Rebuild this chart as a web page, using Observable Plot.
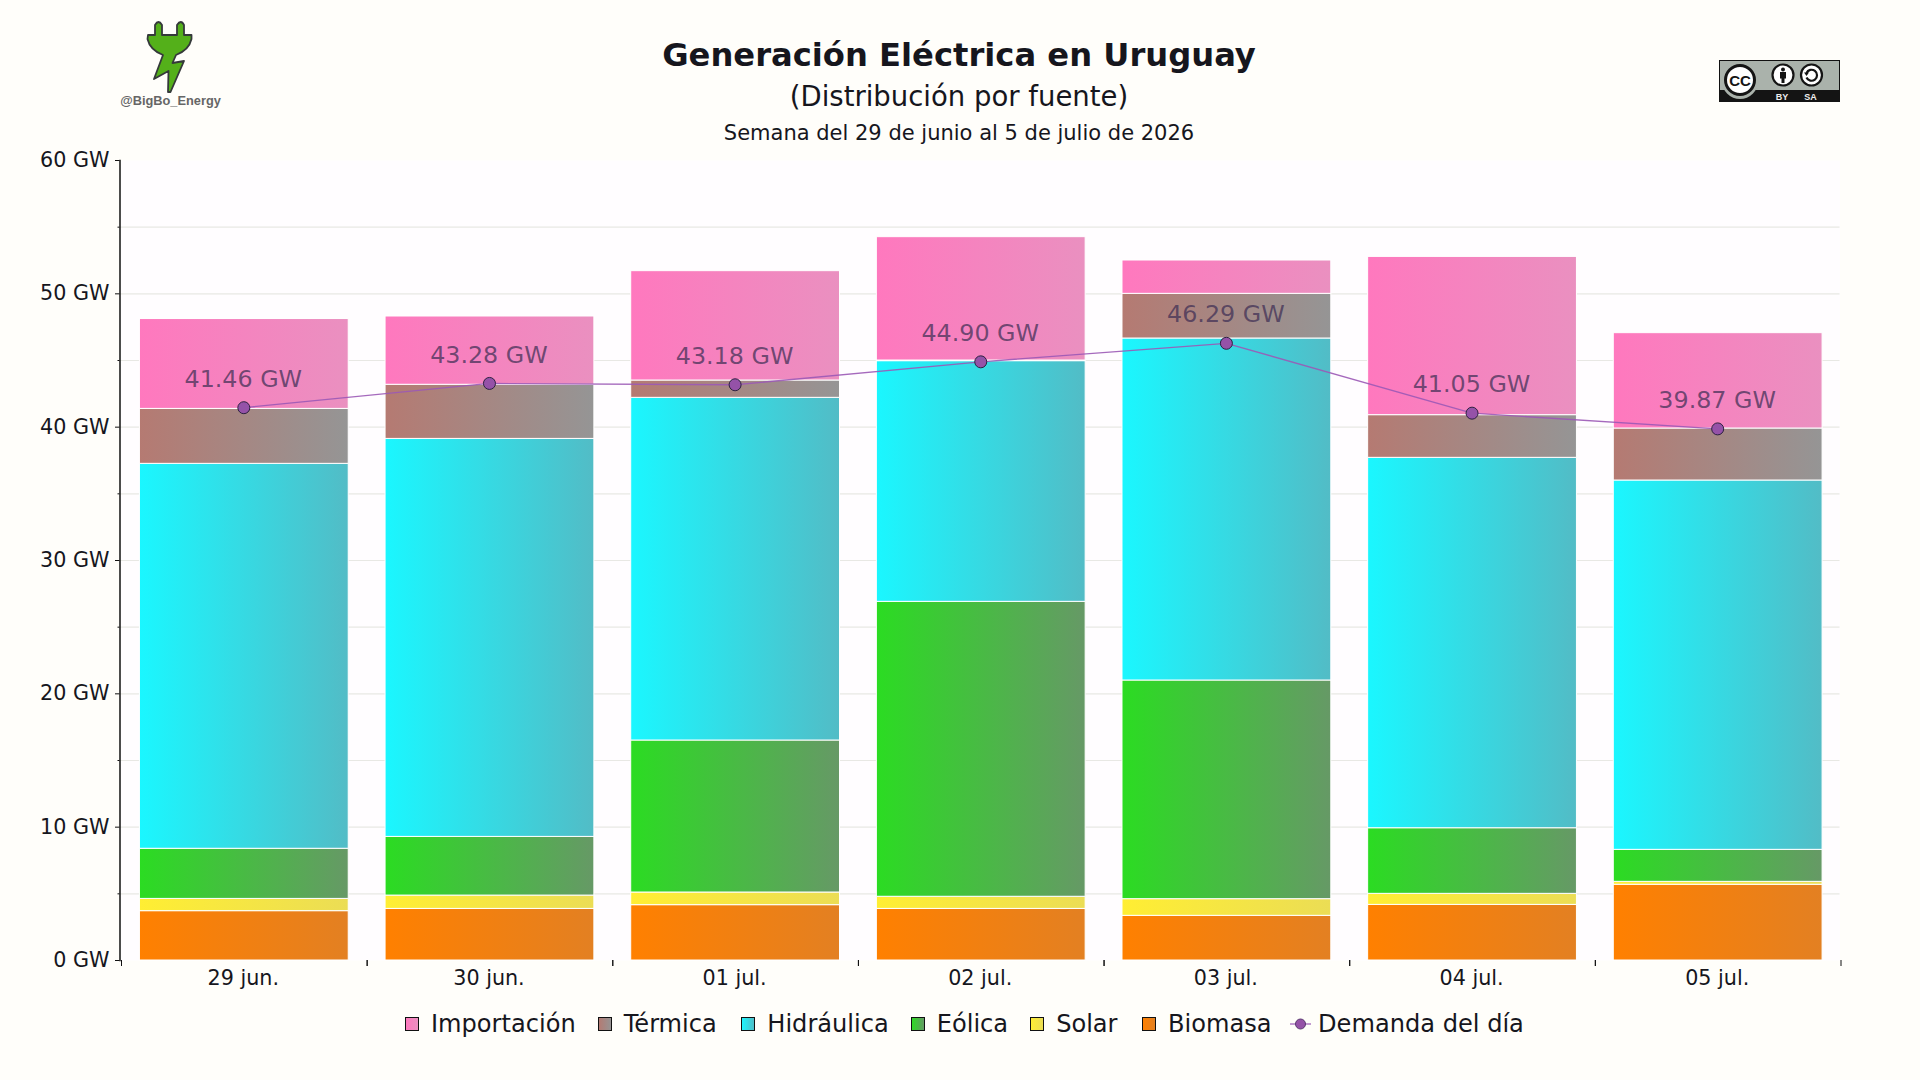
<!DOCTYPE html>
<html lang="es">
<head>
<meta charset="utf-8">
<script src="https://cdn.jsdelivr.net/npm/d3@7"></script>
<script src="https://cdn.jsdelivr.net/npm/@observablehq/plot@0.6"></script>
<style>
  html, body { margin: 0; padding: 0; width: 1920px; height: 1080px; background: #fffefa; overflow: hidden; font-family: "DejaVu Sans", sans-serif; color: #16161d; }
  #page { position: relative; width: 1920px; height: 1080px; }
  .head { position: absolute; left: 0; width: 1918px; text-align: center; white-space: nowrap; }
  #chart { position: absolute; left: 0; top: 130px; }
  #legend { position: absolute; left: 405px; top: 1010px; display: flex; align-items: center; font-size: 24.1px; line-height: 28px; white-space: nowrap; }
  #legend .item { display: flex; align-items: center; }
  #legend svg { margin-right: 12px; display: block; }
  .deco { position: absolute; left: 0; top: 0; }
</style>
</head>
<body>
<div id="page">
  <svg class="deco" width="1920" height="130" viewBox="0 0 1920 130">
    <path d="M148,35 L155,35 L155,25 Q158.500,19 162,25 L162,35 L177,35 L177,25 Q181,19 184,25 L184,35 L191.500,35 L191.500,39 Q189,50 176,55 L172.500,63 L184,61 L170.500,92 L168,92 L168.500,71 L154,79 L163,55 Q150,50 147.500,39 Z" fill="#54b01a" stroke="#35393a" stroke-width="1.800" stroke-linejoin="round"/>
    <text x="170.500" y="105" text-anchor="middle" font-family="Liberation Sans" font-weight="700" font-size="12.800" fill="#666">@BigBo_Energy</text>
    <g>
      <rect x="1719.500" y="60.500" width="120" height="41" fill="#aab2ab" stroke="#111" stroke-width="1"/>
      <rect x="1719" y="90" width="121" height="12" fill="#141414"/>
      <circle cx="1740" cy="81" r="18" fill="#aab2ab"/>
      <circle cx="1740" cy="80" r="14.500" fill="#fff" stroke="#141414" stroke-width="3"/>
      <text x="1740" y="85.500" text-anchor="middle" font-family="Liberation Sans" font-weight="700" font-size="15" fill="#141414">CC</text>
      <circle cx="1783" cy="75" r="10.500" fill="#fff" stroke="#141414" stroke-width="2.200"/>
      <circle cx="1783" cy="69.500" r="2" fill="#141414"/>
      <rect x="1780" y="72" width="6" height="6.500" fill="#141414"/>
      <rect x="1781.500" y="78" width="3" height="5" fill="#141414"/>
      <circle cx="1811.500" cy="75" r="10.500" fill="#fff" stroke="#141414" stroke-width="2.200"/>
      <path d="M1806.500,73 A5.500,5.500 0 1 1 1806.500,77.500" fill="none" stroke="#141414" stroke-width="2.200"/>
      <path d="M1804,72.500 L1809,72.500 L1806.500,76 Z" fill="#141414"/>
      <text x="1782" y="100" text-anchor="middle" font-family="Liberation Sans" font-weight="700" font-size="9" fill="#eee">BY</text>
      <text x="1810.500" y="100" text-anchor="middle" font-family="Liberation Sans" font-weight="700" font-size="9" fill="#eee">SA</text>
    </g>
  </svg>
  <div class="head" style="top:36px;font-size:32.200px;line-height:38px;font-weight:700;">Generación Eléctrica en Uruguay</div>
  <div class="head" style="top:79px;font-size:27.500px;line-height:34px;">(Distribución por fuente)</div>
  <div class="head" style="top:120px;font-size:21px;line-height:26px;">Semana del 29 de junio al 5 de julio de 2026</div>
  <div id="chart"></div>
  <div id="legend"></div>
</div>
<script>
const days = ["29 jun.", "30 jun.", "01 jul.", "02 jul.", "03 jul.", "04 jul.", "05 jul."];
const biomasa    = [3.70, 3.87, 4.15, 3.87, 3.35, 4.17, 5.68];
const solar      = [0.92, 1.00, 0.95, 0.91, 1.25, 0.83, 0.22];
const eolica     = [3.76, 4.40, 11.40, 22.12, 16.40, 4.92, 2.40];
const hidraulica = [28.87, 29.85, 25.70, 18.05, 25.65, 27.78, 27.70];
const termica    = [4.12, 4.06, 1.30, 0.05, 3.35, 3.20, 3.90];
const importacion = [6.74, 5.12, 8.20, 9.25, 2.50, 11.87, 7.15];
const demanda    = [41.46, 43.28, 43.18, 44.90, 46.29, 41.05, 39.87];

const sources = ["Biomasa", "Solar", "Eólica", "Hidráulica", "Térmica", "Importación"];
const sourceValues = [biomasa, solar, eolica, hidraulica, termica, importacion];
const legendOrder = ["Importación", "Térmica", "Hidráulica", "Eólica", "Solar", "Biomasa"];
const legendGaps = [22, 24.5, 22, 22, 24.5, 18.5];
const gradientIds = {"Biomasa": "g-bio", "Solar": "g-sol", "Eólica": "g-eol", "Hidráulica": "g-hid", "Térmica": "g-ter", "Importación": "g-imp"};
const gradientStops = {
  "Biomasa": ["#ff8000", "#e38022"],
  "Solar": ["#ffee33", "#ebdd55"],
  "Eólica": ["#2bdc22", "#669966"],
  "Hidráulica": ["#1af7ff", "#52bcc6"],
  "Térmica": ["#b57a72", "#959595"],
  "Importación": ["#ff78be", "#ea90c0"]
};

const rows = sources.flatMap((s, i) => days.map((d, j) => ({day: d, source: s, value: sourceValues[i][j]})));
const demandRows = days.map((d, j) => ({day: d, value: demanda[j]}));

const W = 1920, mL = 121, mR = 79.5;
const band = (W - mL - mR) / days.length;
const font = '"DejaVu Sans", sans-serif';
const ink = "#16161d";
const noLabel = () => "";

function gradientDefs() {
  const svg = d3.create("svg:g");
  const defs = svg.append("defs");
  for (const s of sources) {
    const g = defs.append("linearGradient").attr("id", gradientIds[s]).attr("x1", 0).attr("x2", 1).attr("y1", 0).attr("y2", 0);
    g.append("stop").attr("offset", "0%").attr("stop-color", gradientStops[s][0]);
    g.append("stop").attr("offset", "100%").attr("stop-color", gradientStops[s][1]);
  }
  return svg.node();
}

const chart = Plot.plot({
  width: W, height: 880,
  marginLeft: mL, marginRight: mR, marginTop: 30, marginBottom: 50,
  style: {background: "transparent", fontFamily: font, overflow: "visible"},
  x: {type: "band", domain: days, paddingInner: 0.15, paddingOuter: 0.075, round: false, label: null},
  y: {domain: [0, 60], label: null},
  color: {domain: sources, range: sources.map(s => `url(#${gradientIds[s]})`)},
  marks: [
    gradientDefs,
    Plot.frame({fill: "#fffdff", stroke: null, dx: -1}),
    Plot.ruleY(d3.range(5, 60, 5), {stroke: "#e8e8e4", strokeWidth: 1.2, dx: -1}),
    Plot.barY(rows, {x: "day", y: "value", z: "source", fill: "source", stroke: "#fff", strokeWidth: 1, order: null}),
    Plot.line(demandRows, {x: "day", y: "value", stroke: "#9b59b6", strokeWidth: 1.3, strokeOpacity: 0.9, dx: -0.5, curve: "linear"}),
    Plot.dot(demandRows, {x: "day", y: "value", r: 6, dx: -0.5, fill: "#9552a8", stroke: "#2c2140", strokeWidth: 1}),
    Plot.text(demandRows, {x: "day", y: "value", text: d => `${d.value.toFixed(2)} GW`, dy: -28.5, dx: -1, fontSize: 23.8, fill: "#3f2f55", fillOpacity: 0.74}),
    Plot.frame({anchor: "left", stroke: "#111", strokeWidth: 1.5, dx: -1.5}),
    Plot.axisY({ticks: d3.range(0, 61, 10), tickFormat: d => `${d} GW`, tickSize: 4.5, tickPadding: 6, dx: -1.5, fontSize: 20.7, fill: ink, stroke: "#111", label: null}),
    Plot.axisY({ticks: d3.range(5, 60, 10), tickFormat: noLabel, tickSize: 2, dx: -1.5, stroke: "#111", label: null}),
    Plot.axisX({tickSize: 6, dx: -band / 2, tickFormat: noLabel, stroke: "#111", label: null}),
    Plot.axisX({tickSize: 6, dx: band / 2, tickFormat: noLabel, stroke: "#111", label: null}),
    Plot.axisX({tickSize: 0, tickPadding: 10, dx: -1, fontSize: 20.7, fill: ink, label: null})
  ]
});
document.getElementById("chart").append(chart);

const legend = d3.select("#legend");
legendOrder.forEach((s, k) => {
  const item = legend.append("div").attr("class", "item").style("margin-right", legendGaps[k] + "px");
  const sw = item.append("svg").attr("width", 14).attr("height", 14);
  const id = "lg-" + gradientIds[s];
  const g = sw.append("defs").append("linearGradient").attr("id", id);
  g.append("stop").attr("offset", "0%").attr("stop-color", gradientStops[s][0]);
  g.append("stop").attr("offset", "100%").attr("stop-color", gradientStops[s][1]);
  sw.append("rect").attr("x", 0.5).attr("y", 0.5).attr("width", 13).attr("height", 13)
    .attr("fill", `url(#${id})`).attr("stroke", "#111").attr("stroke-width", 1);
  item.append("span").text(s);
});
const demandItem = legend.append("div").attr("class", "item");
const dsw = demandItem.append("svg").attr("width", 21).attr("height", 14).style("margin-right", "7px");
dsw.append("line").attr("x1", 0).attr("x2", 21).attr("y1", 7).attr("y2", 7).attr("stroke", "#9b59b6").attr("stroke-width", 1.2);
dsw.append("circle").attr("cx", 10.5).attr("cy", 7).attr("r", 5).attr("fill", "#9552a8").attr("stroke", "#5a3a70");
demandItem.append("span").text("Demanda del día");
</script>
</body>
</html>
